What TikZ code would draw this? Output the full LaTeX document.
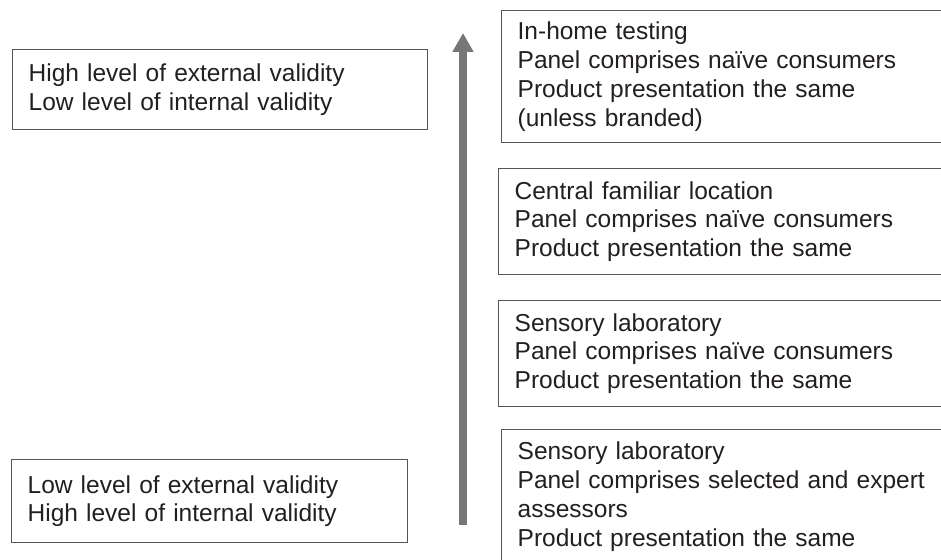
\documentclass[tikz,border=0pt]{standalone}
\usepackage{fontspec}
\setmainfont{Liberation Sans}
\usetikzlibrary{positioning,arrows.meta}
\definecolor{boxline}{HTML}{555555}
\definecolor{boxtext}{HTML}{231F20}
\definecolor{arrowgray}{HTML}{777777}

\begin{document}
\begin{tikzpicture}[x=1pt, y=-1pt,
    box/.style={draw=boxline, line width=1.3pt, rectangle, anchor=north west,
      align=left, inner xsep=16pt, inner ysep=0pt, text=boxtext,
      font=\fontsize{24.5}{28.8}\selectfont},
    lefthalf/.style={box, minimum height=80pt},
    righthalf/.style={box, text width=430pt}]
    \path[use as bounding box, clip] (0,0) rectangle (941,559);

    % Validity levels on the left
\node[lefthalf, text width=383pt] (highExt) at (12,49) {High level of external validity\\Low level of internal validity};
\node[lefthalf, text width=364pt, minimum height=83pt] (lowExt) at (11,459) {Low level of external validity\\High level of internal validity};

    % Test settings on the right
\node[righthalf, minimum height=132pt] (inHome) at (501,10) {In-home testing\\Panel comprises naïve consumers\\Product presentation the same\\(unless branded)};
\node[righthalf, minimum height=106pt] (central) at (498,168) {Central familiar location\\Panel comprises naïve consumers\\Product presentation the same};
\node[righthalf, minimum height=106pt] (labNaive) at (498,300) {Sensory laboratory\\Panel comprises naïve consumers\\Product presentation the same};
\node[righthalf, minimum height=134pt] (labExpert) at (501,429) {Sensory laboratory\\Panel comprises selected and expert\\assessors\\Product presentation the same};

    % Gradient arrow
    \coordinate (low) at (463,525);
    \coordinate (high) at (463,33);
    \draw[arrowgray, line width=8pt, -{Triangle[width=20pt,length=19pt]}] (low) -- (high);
\end{tikzpicture}
\end{document}
